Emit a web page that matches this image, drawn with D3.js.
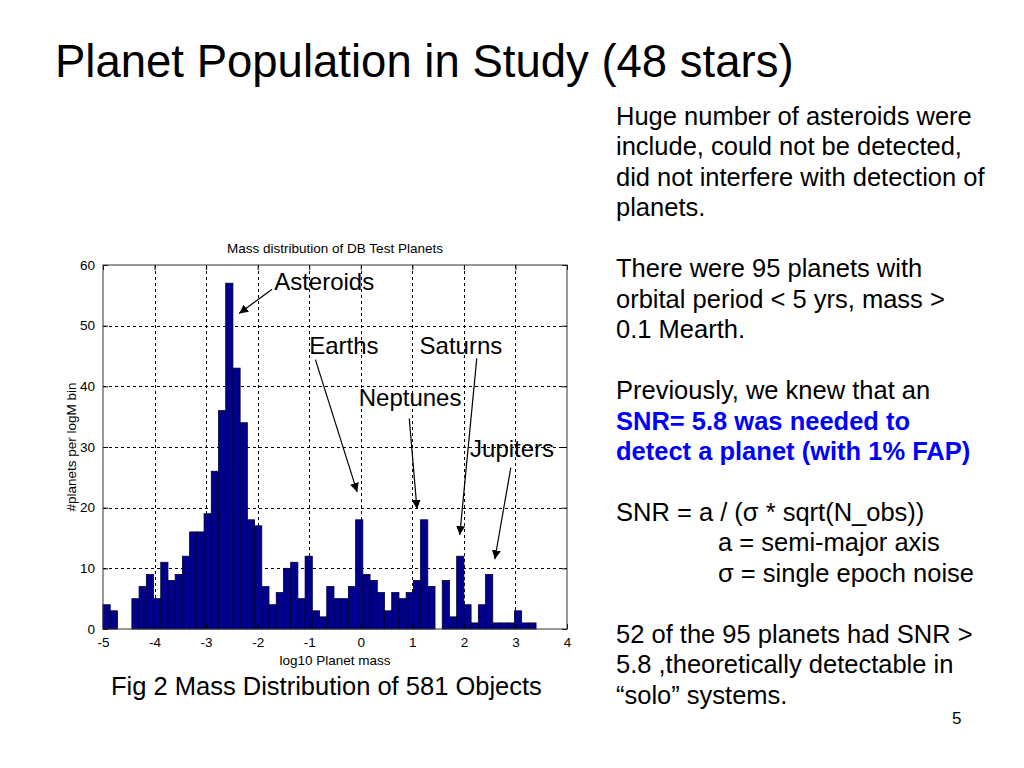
<!DOCTYPE html>
<html lang="en">
  <head>
    <meta charset="utf-8">
    <title>Planet Population in Study</title>
    <style>
      body { margin: 0; background: #fff; }
      svg { font-family: "Liberation Sans", Arial, Helvetica, sans-serif; }
    </style>
  </head>
  <body>
    <script src="https://d3js.org/d3.v7.min.js"></script>
    <script>
    // histogram: 60 bins of log10 mass, starting at -5
    var binStart = -5;
    var binWidth = 0.14;
    var counts = [
      4, 3, 0, 0, 5, 7, 9, 5, 11, 8,
      9, 12, 16, 16, 19, 26, 36, 57, 43, 34,
      18, 17, 7, 4, 6, 10, 11, 5, 12, 3,
      2, 7, 5, 5, 7, 18, 9, 8, 6, 3,
      6, 5, 6, 8, 18, 7, 0, 8, 2, 12,
      4, 1, 4, 9, 1, 1, 1, 3, 1, 1
    ];
    var xTicks = [-5, -4, -3, -2, -1, 0, 1, 2, 3, 4];
    var yTicks = [0, 10, 20, 30, 40, 50, 60];

    // annotations, in data units: label start + arrow from -> to
    var notes = [
      { text: "Asteroids", tx: -1.68, ty: 55.8, x1: -1.72, y1: 56.0, x2: -2.36, y2: 52.0 },
      { text: "Earths",    tx: -1.0,  ty: 45.3, x1: -0.88, y1: 44.4, x2: -0.07, y2: 22.6 },
      { text: "Saturns",   tx: 1.14,  ty: 45.3, x1: 2.25,  y1: 44.6, x2: 1.92,  y2: 15.5 },
      { text: "Neptunes",  tx: -0.04, ty: 36.8, x1: 0.94,  y1: 34.7, x2: 1.09,  y2: 19.8 },
      { text: "Jupiters",  tx: 2.12,  ty: 28.4, x1: 2.91,  y1: 26.6, x2: 2.6,   y2: 11.5 }
    ];

    var textLines = [
      { t: "Huge number of asteroids were" },
      { t: "include, could not be detected," },
      { t: "did not interfere with detection of" },
      { t: "planets." },
      { t: "" },
      { t: "There were 95 planets with" },
      { t: "orbital period < 5 yrs, mass >" },
      { t: "0.1 Mearth." },
      { t: "" },
      { t: "Previously, we knew that an" },
      { t: "SNR= 5.8 was needed to", blue: true },
      { t: "detect a planet (with 1% FAP)", blue: true },
      { t: "" },
      { t: "SNR = a / (\u03c3 * sqrt(N_obs))" },
      { t: "a = semi-major axis", indent: true },
      { t: "\u03c3 = single epoch noise", indent: true },
      { t: "" },
      { t: "52 of the 95 planets had SNR >" },
      { t: "5.8 ,theoretically detectable in" },
      { t: "\u201csolo\u201d systems." }
    ];

    var W = 1024, H = 768;
    var svg = d3.select("body").append("svg")
        .attr("width", W)
        .attr("height", H);

    svg.append("text")
        .attr("x", 55)
        .attr("y", 77)
        .attr("font-size", 45.5)
        .text("Planet Population in Study (48 stars)");

    // right column text
    svg.append("g")
        .selectAll("text")
        .data(textLines)
        .enter()
        .append("text")
        .attr("x", function(d) { return d.indent ? 718 : 616; })
        .attr("y", function(d, i) { return 125 + i * 30.45; })
        .attr("font-size", 25.5)
        .attr("font-weight", function(d) { return d.blue ? "bold" : null; })
        .attr("fill", function(d) { return d.blue ? "#0000ff" : "#000"; })
        .text(function(d) { return d.t; });

    svg.append("text")
        .attr("x", 111)
        .attr("y", 695)
        .attr("font-size", 25.5)
        .text("Fig 2 Mass Distribution of 581 Objects");

    svg.append("text")
        .attr("x", 952)
        .attr("y", 724)
        .attr("font-size", 17)
        .text("5");

    // chart
    var x = d3.scaleLinear().domain([-5, 4]).range([103, 567]);
    var y = d3.scaleLinear().domain([0, 60]).range([629, 265]);
    var fmt = function(d) { return String(d); };

    var chart = svg.append("g").attr("font-size", 13.5);

    chart.append("rect")
        .attr("x", x(-5)).attr("y", y(60))
        .attr("width", x(4) - x(-5)).attr("height", y(0) - y(60))
        .attr("fill", "#fff");

    // grid
    chart.selectAll("line.gx")
        .data(xTicks.slice(1, -1))
        .enter().append("line")
        .attr("class", "gx")
        .attr("x1", function(d) { return Math.round(x(d)) + 0.5; })
        .attr("x2", function(d) { return Math.round(x(d)) + 0.5; })
        .attr("y1", y(60)).attr("y2", y(0))
        .attr("stroke", "#000").attr("stroke-dasharray", "3,3");
    chart.selectAll("line.gy")
        .data(yTicks.slice(1, -1))
        .enter().append("line")
        .attr("class", "gy")
        .attr("y1", function(d) { return Math.round(y(d)) + 0.5; })
        .attr("y2", function(d) { return Math.round(y(d)) + 0.5; })
        .attr("x1", x(-5)).attr("x2", x(4))
        .attr("stroke", "#000").attr("stroke-dasharray", "3,3");

    // bars
    chart.selectAll("rect.bar")
        .data(counts)
        .enter().append("rect")
        .attr("class", "bar")
        .attr("x", function(d, i) { return x(binStart + i * binWidth); })
        .attr("width", function(d, i) { return x(binStart + (i + 1) * binWidth) - x(binStart + i * binWidth); })
        .attr("y", function(d) { return y(d); })
        .attr("height", function(d) { return y(0) - y(d); })
        .attr("fill", "#00008c")
        .attr("stroke", function(d) { return d > 0 ? "#000030" : "none"; })
        .attr("stroke-width", 0.8);

    // axes (matlab style, ticks inward on all sides)
    chart.append("g")
        .attr("transform", "translate(0," + y(0) + ")")
        .call(d3.axisBottom(x).tickValues(xTicks).tickFormat(fmt).tickSizeInner(-5).tickSizeOuter(0).tickPadding(8))
        .call(function(g) { g.select(".domain").remove(); g.selectAll("text").attr("font-size", 13.5).attr("font-family", null); });
    chart.append("g")
        .attr("transform", "translate(0," + y(60) + ")")
        .call(d3.axisTop(x).tickValues(xTicks).tickSizeInner(-5).tickSizeOuter(0).tickFormat(""))
        .call(function(g) { g.select(".domain").remove(); });
    chart.append("g")
        .attr("transform", "translate(" + x(-5) + ",0)")
        .call(d3.axisLeft(y).tickValues(yTicks).tickFormat(fmt).tickSizeInner(-5).tickSizeOuter(0).tickPadding(8))
        .call(function(g) { g.select(".domain").remove(); g.selectAll("text").attr("font-size", 13.5).attr("font-family", null); });
    chart.append("g")
        .attr("transform", "translate(" + x(4) + ",0)")
        .call(d3.axisRight(y).tickValues(yTicks).tickSizeInner(-5).tickSizeOuter(0).tickFormat(""))
        .call(function(g) { g.select(".domain").remove(); });

    chart.append("rect")
        .attr("x", x(-5)).attr("y", y(60))
        .attr("width", x(4) - x(-5)).attr("height", y(0) - y(60))
        .attr("fill", "none").attr("stroke", "#333");

    chart.append("text")
        .attr("x", (x(-5) + x(4)) / 2).attr("y", 253)
        .attr("text-anchor", "middle")
        .text("Mass distribution of DB Test Planets");
    chart.append("text")
        .attr("x", (x(-5) + x(4)) / 2).attr("y", 665)
        .attr("text-anchor", "middle")
        .text("log10 Planet mass");
    chart.append("text")
        .attr("transform", "translate(76," + (y(0) + y(60)) / 2 + ") rotate(-90)")
        .attr("text-anchor", "middle")
        .text("#planets per logM bin");

    // annotation arrows
    svg.append("defs").append("marker")
        .attr("id", "head")
        .attr("viewBox", "0 0 10 10")
        .attr("refX", 10).attr("refY", 5)
        .attr("markerWidth", 9).attr("markerHeight", 9)
        .attr("markerUnits", "userSpaceOnUse")
        .attr("orient", "auto")
        .append("path").attr("d", "M0,0 L10,5 L0,10 Z").attr("fill", "#000");

    var ann = svg.append("g");
    ann.selectAll("line")
        .data(notes)
        .enter().append("line")
        .attr("x1", function(d) { return x(d.x1); })
        .attr("y1", function(d) { return y(d.y1); })
        .attr("x2", function(d) { return x(d.x2); })
        .attr("y2", function(d) { return y(d.y2); })
        .attr("stroke", "#000").attr("stroke-width", 1.2)
        .attr("marker-end", "url(#head)");
    ann.selectAll("text")
        .data(notes)
        .enter().append("text")
        .attr("x", function(d) { return x(d.tx); })
        .attr("y", function(d) { return y(d.ty); })
        .attr("font-size", 24)
        .text(function(d) { return d.text; });
    </script>
  </body>
</html>
